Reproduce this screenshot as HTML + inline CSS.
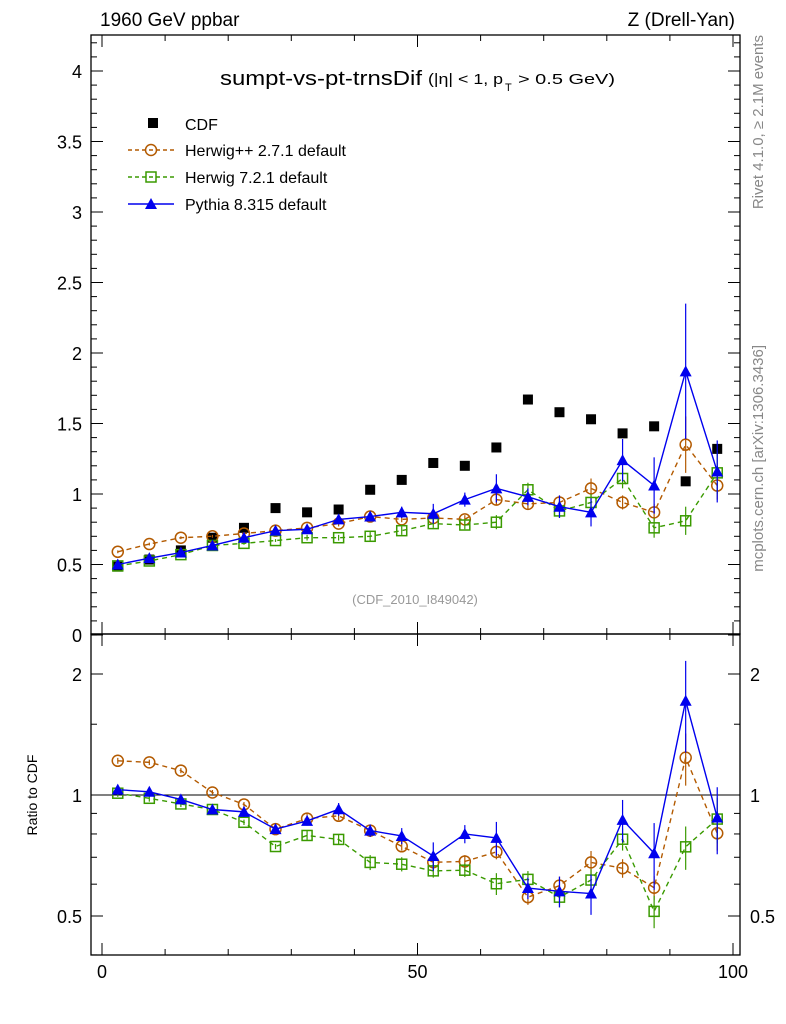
<!DOCTYPE html>
<html><head><meta charset="utf-8"><style>
body{margin:0;background:#fff;}
svg{display:block;font-family:"Liberation Sans",sans-serif;}
</style></head><body>
<svg id="c" width="786" height="1024" xmlns="http://www.w3.org/2000/svg"></svg>
<script>
const xCenters=[2.5,7.5,12.5,17.5,22.5,27.5,32.5,37.5,42.5,47.5,52.5,57.5,62.5,67.5,72.5,77.5,82.5,87.5,92.5,97.5];
const cdfVals=[0.485,0.535,0.60,0.69,0.76,0.90,0.87,0.89,1.03,1.10,1.22,1.20,1.33,1.67,1.58,1.53,1.43,1.48,1.09,1.32];
const herwigppVals=[0.59,0.645,0.69,0.70,0.72,0.74,0.76,0.79,0.84,0.82,0.83,0.82,0.96,0.93,0.94,1.04,0.94,0.87,1.35,1.06];
const herwig7Vals=[0.49,0.525,0.57,0.635,0.65,0.67,0.69,0.69,0.70,0.74,0.79,0.78,0.80,1.03,0.88,0.94,1.11,0.76,0.81,1.15];
const pythiaVals=[0.50,0.545,0.585,0.635,0.69,0.74,0.75,0.82,0.84,0.87,0.86,0.96,1.04,0.98,0.91,0.87,1.24,1.06,1.87,1.16];
const herwigppErr=[0.01,0.01,0.01,0.01,0.01,0.01,0.02,0.02,0.03,0.02,0.03,0.03,0.04,0.04,0.05,0.07,0.05,0.06,0.2,0.1];
const herwig7Err=[0.01,0.01,0.01,0.01,0.01,0.01,0.02,0.02,0.03,0.03,0.03,0.03,0.05,0.05,0.05,0.06,0.07,0.07,0.1,0.15];
const pythiaErr=[0.01,0.01,0.01,0.01,0.02,0.02,0.02,0.03,0.03,0.04,0.07,0.05,0.10,0.06,0.08,0.10,0.15,0.20,0.48,0.22];
const mainTicks=[0,0.5,1,1.5,2,2.5,3,3.5,4];
const mainTickLabels=["0","0.5","1","1.5","2","2.5","3","3.5","4"];
const ratioTicks=[0.5,1,2];
const xTicks=[0,50,100];

const svg=document.getElementById('c');
const NS='http://www.w3.org/2000/svg';
function el(t,a,p){const e=document.createElementNS(NS,t);for(const k in a)e.setAttribute(k,a[k]);(p||svg).appendChild(e);return e;}
const L=91,R=740,T=35,M=634,B=955;
const X=v=>102+v*6.31;
const Y=v=>635-v*141;
const YR=v=>795-Math.log2(v)*121;

let f=el('rect',{x:L,y:T,width:R-L,height:M-T,fill:'none',stroke:'#000','stroke-width':1.3});

f=el('rect',{x:L,y:M,width:R-L,height:B-M,fill:'none',stroke:'#000','stroke-width':1.3});


function txt(x,y,s,opt){const t=el('text',Object.assign({x:x,y:y,'font-size':18},opt||{}));t.textContent=s;return t;}
mainTicks.forEach((v,i)=>{
 const y=Y(v);
 el('line',{x1:L,x2:L+12,y1:y,y2:y,stroke:'#000'});el('line',{x1:R,x2:R-12,y1:y,y2:y,stroke:'#000'});
 for(let k=1;k<5;k++){const ym=Y(v+k*0.1);if(ym>T){el('line',{x1:L,x2:L+6,y1:ym,y2:ym,stroke:'#000'});el('line',{x1:R,x2:R-6,y1:ym,y2:ym,stroke:'#000'});}}
 const t=txt(82,y+7,mainTickLabels[i],{'text-anchor':'end'});
 
});
for(let v=0;v<=100;v+=10){const big=v%50==0;const h=big?12:6;
 [M,B].forEach(b=>{el('line',{x1:X(v),x2:X(v),y1:b,y2:b-h,stroke:'#000'});});
 el('line',{x1:X(v),x2:X(v),y1:T,y2:T+h,stroke:'#000'});el('line',{x1:X(v),x2:X(v),y1:M,y2:M+h,stroke:'#000'});}
xTicks.forEach(v=>{const t=txt(X(v),978,String(v),{'text-anchor':'middle'});});
ratioTicks.forEach(v=>{const y=YR(v);
 el('line',{x1:L,x2:L+12,y1:y,y2:y,stroke:'#000'});el('line',{x1:R,x2:R-12,y1:y,y2:y,stroke:'#000'});
 let t=txt(82,y+7,String(v),{'text-anchor':'end'});
 t=txt(750,y+7,String(v));});
[0.4,0.6,0.7,0.8,0.9,1.5,2.5].forEach(v=>{const y=YR(v);if(y>M&&y<B){el('line',{x1:L,x2:L+6,y1:y,y2:y,stroke:'#000'});el('line',{x1:R,x2:R-6,y1:y,y2:y,stroke:'#000'});}});
el('line',{x1:L,x2:R,y1:YR(1),y2:YR(1),stroke:'#000'});

let t=txt(100,26,'1960 GeV ppbar',{'font-size':19});
t=txt(735,26,'Z (Drell-Yan)',{'font-size':19,'text-anchor':'end'});
t=txt(220,85,'sumpt-vs-pt-trnsDif',{'font-size':20,textLength:202,lengthAdjust:'spacingAndGlyphs'});
t=txt(428,84,'(|η| < 1, p',{'font-size':15,textLength:75,lengthAdjust:'spacingAndGlyphs'});
txt(505,91,'T',{'font-size':11});
txt(518,84,'> 0.5 GeV)',{'font-size':15,textLength:97,lengthAdjust:'spacingAndGlyphs'});
t=txt(415,604,'(CDF_2010_I849042)',{'font-size':13,fill:'#999','text-anchor':'middle'});
t=txt(0,0,'Ratio to CDF',{'font-size':14,transform:'translate(37,795) rotate(-90)','text-anchor':'middle'});
t=txt(0,0,'Rivet 4.1.0, ≥ 2.1M events',{'font-size':15,fill:'#888',transform:'translate(763,35) rotate(-90)','text-anchor':'end'});
t=txt(0,0,'mcplots.cern.ch [arXiv:1306.3436]',{'font-size':15,fill:'#888',transform:'translate(763,345) rotate(-90)','text-anchor':'end'});

function marker(kind,x,y,col,g){
 if(kind=='sq')return el('rect',{x:x-5,y:y-5,width:10,height:10,fill:'#000'},g);
 if(kind=='circ')return el('circle',{cx:x,cy:y,r:5.5,fill:'none',stroke:col,'stroke-width':1.5},g);
 if(kind=='osq')return el('rect',{x:x-5,y:y-5,width:10,height:10,fill:'none',stroke:col,'stroke-width':1.5},g);
 return el('polygon',{points:`${x},${y-6} ${x-6},${y+5} ${x+6},${y+5}`,fill:col},g);
}
const series=[
 {name:'herwigpp',vals:herwigppVals,err:herwigppErr,col:'#b35a00',kind:'circ',dash:'5,4',label:'Herwig++ 2.7.1 default'},
 {name:'herwig7',vals:herwig7Vals,err:herwig7Err,col:'#3a9a00',kind:'osq',dash:'5,4',label:'Herwig 7.2.1 default'},
 {name:'pythia',vals:pythiaVals,err:pythiaErr,col:'#0000ee',kind:'tri',dash:null,label:'Pythia 8.315 default'}];
const gd=el('g',{});
xCenters.forEach((x,i)=>{const m=marker('sq',X(x),Y(cdfVals[i]),'#000',gd);});
function drawSeries(s,yf,vals,panel){
 const g=el('g',{});
 const pts=xCenters.map((x,i)=>X(x)+','+yf(vals[i])).join(' ');
 const a={points:pts,fill:'none',stroke:s.col,'stroke-width':1.4};if(s.dash)a['stroke-dasharray']=s.dash;
 el('polyline',a,g);
 xCenters.forEach((x,i)=>{const e=s.err[i]*(panel=='ratio'?1/cdfVals[i]:1);
  el('line',{x1:X(x),x2:X(x),y1:yf(vals[i]+e),y2:yf(Math.max(vals[i]-e,0.05)),stroke:s.col,'stroke-width':1.2},g);
  const m=marker(s.kind,X(x),yf(vals[i]),s.col,g);});
}
series.forEach(s=>{
 drawSeries(s,Y,s.vals,'main');
 drawSeries(s,YR,s.vals.map((v,i)=>v/cdfVals[i]),'ratio');
});
const lg=el('g',{});
marker('sq',153,123,'#000',lg);let lt=txt(185,130,'CDF',{'font-size':16});lg.appendChild(lt);
series.forEach((s,i)=>{const y=150+i*27;const a={x1:128,x2:174,y1:y,y2:y,stroke:s.col,'stroke-width':1.4};if(s.dash)a['stroke-dasharray']='4,3';
 el('line',a,lg);marker(s.kind,151,y,s.col,lg);const tt=txt(185,y+6,s.label,{'font-size':16});lg.appendChild(tt);
 });
</script>
</body></html>
